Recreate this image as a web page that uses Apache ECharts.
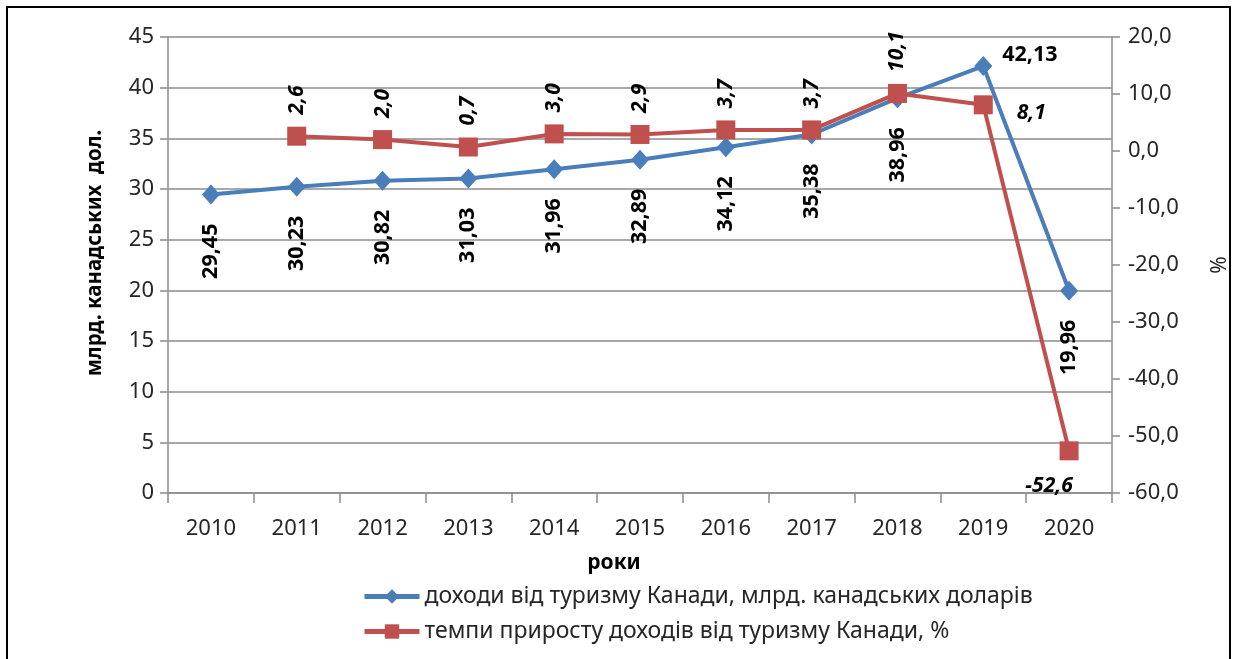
<!DOCTYPE html>
<html>
<head>
<meta charset="utf-8">
<script src="https://cdn.jsdelivr.net/npm/echarts@6/dist/echarts.min.js"></script>
<style>
  html, body { margin: 0; padding: 0; background: #fff; }
  #chart { width: 1240px; height: 659px; }
  #frame { position: absolute; left: 6px; top: 6px; width: 1225px; height: 700px;
           border: 2px solid #000; box-sizing: border-box; pointer-events: none; }
</style>
</head>
<body>
<div id="chart"></div>
<div id="frame"></div>
<script>
// Years on the category axis
const years = ['2010', '2011', '2012', '2013', '2014', '2015', '2016', '2017', '2018', '2019', '2020'];
// Tourism revenue of Canada, bn CAD
const revenue = [29.45, 30.23, 30.82, 31.03, 31.96, 32.89, 34.12, 35.38, 38.96, 42.13, 19.96];
// Year-on-year growth of tourism revenue, %
const growth = [null, 2.6, 2.0, 0.7, 3.0, 2.9, 3.7, 3.7, 10.1, 8.1, -52.6];

const seriesNames = [
  'доходи від туризму Канади, млрд. канадських доларів',
  'темпи приросту доходів від туризму Канади, %'
];

const FONT = '"Noto Sans", "Open Sans", sans-serif';
const comma = (v, d) => v.toFixed(d).replace('.', ',');
const gridColor = '#8c8c8c';

// Labels sit below the revenue points, rotated; a couple of points get their own placement
const revenueData = revenue.map((v, i) => {
  const item = { value: v };
  if (years[i] === '2019') {
    item.label = { position: 'right', rotate: 0, align: 'left', verticalAlign: 'middle', distance: 10, offset: [0, -11] };
  }
  return item;
});

const growthData = growth.map((v, i) => {
  const item = { value: v };
  if (years[i] === '2019') {
    item.label = { position: 'right', rotate: 0, align: 'left', verticalAlign: 'middle', distance: 24, offset: [0, 8] };
  } else if (years[i] === '2020') {
    item.label = { position: 'bottom', rotate: 0, align: 'center', verticalAlign: 'top', distance: 15, offset: [-20, 0] };
  }
  return item;
});

const chart = echarts.init(document.getElementById('chart'), null, { renderer: 'canvas' });
chart.setOption({
  animation: false,
  textStyle: { fontFamily: FONT },
  grid: { left: 168, right: 128, top: 37, bottom: 166, containLabel: false },
  legend: {
    orient: 'vertical',
    left: 357,
    top: 580,
    itemWidth: 55,
    itemHeight: 18,
    itemGap: 12,
    lineStyle: { width: 5 },
    textStyle: { fontFamily: FONT, fontSize: 23, color: '#262626' },
    data: seriesNames
  },
  xAxis: {
    type: 'category',
    data: years,
    boundaryGap: true,
    name: 'роки',
    nameLocation: 'middle',
    nameGap: 60,
    nameTextStyle: { fontFamily: FONT, fontSize: 21, fontWeight: 'bold', color: '#000', padding: [0, 52, 0, 0] },
    axisLine: { lineStyle: { color: gridColor, width: 1.5 } },
    axisTick: { show: true, length: 10, alignWithLabel: false, lineStyle: { color: gridColor, width: 1.5 } },
    axisLabel: { fontFamily: FONT, fontSize: 22, color: '#262626', margin: 25 },
    splitLine: { show: false }
  },
  yAxis: [
    {
      type: 'value',
      min: 0, max: 45, interval: 5,
      position: 'left',
      name: 'млрд. канадських  дол.',
      nameLocation: 'middle',
      nameGap: 62,
      nameRotate: 90,
      nameTextStyle: { fontFamily: FONT, fontSize: 20.5, fontWeight: 'bold', color: '#000', padding: [0, 0, 0, 24] },
      axisLine: { show: true, lineStyle: { color: gridColor, width: 1.5 } },
      axisTick: { show: true, length: 8, lineStyle: { color: gridColor, width: 1.5 } },
      axisLabel: { fontFamily: FONT, fontSize: 22, color: '#262626', margin: 14 },
      splitLine: { show: true, lineStyle: { color: gridColor, width: 1.5 } }
    },
    {
      type: 'value',
      min: -60, max: 20, interval: 10,
      position: 'right',
      name: '%',
      nameLocation: 'middle',
      nameGap: 98,
      nameRotate: 90,
      nameTextStyle: { fontFamily: FONT, fontSize: 21, color: '#262626' },
      axisLine: { show: true, lineStyle: { color: gridColor, width: 1.5 } },
      axisTick: { show: true, length: 8, lineStyle: { color: gridColor, width: 1.5 } },
      axisLabel: { fontFamily: FONT, fontSize: 22, color: '#262626', margin: 16, formatter: v => comma(v, 1) },
      splitLine: { show: false }
    }
  ],
  series: [
    {
      name: seriesNames[0],
      type: 'line',
      yAxisIndex: 0,
      data: revenueData,
      symbol: 'diamond',
      symbolSize: [18, 20],
      itemStyle: { color: '#4a7ebb' },
      lineStyle: { color: '#4a7ebb', width: 4 },
      label: {
        show: true,
        position: 'bottom',
        rotate: 90,
        align: 'right',
        verticalAlign: 'middle',
        distance: 19,
        fontFamily: FONT,
        fontSize: 21.5,
        fontWeight: 'bold',
        color: '#000',
        formatter: p => comma(p.value, 2)
      },
      z: 2
    },
    {
      name: seriesNames[1],
      type: 'line',
      yAxisIndex: 1,
      data: growthData,
      symbol: 'rect',
      symbolSize: 19,
      itemStyle: { color: '#c0504d' },
      lineStyle: { color: '#c0504d', width: 4 },
      label: {
        show: true,
        position: 'top',
        rotate: 90,
        align: 'left',
        verticalAlign: 'middle',
        distance: 12,
        fontFamily: FONT,
        fontSize: 21,
        fontWeight: 'bold',
        fontStyle: 'italic',
        color: '#000',
        formatter: p => comma(p.value, 1)
      },
      z: 3
    }
  ]
});
</script>
</body>
</html>
